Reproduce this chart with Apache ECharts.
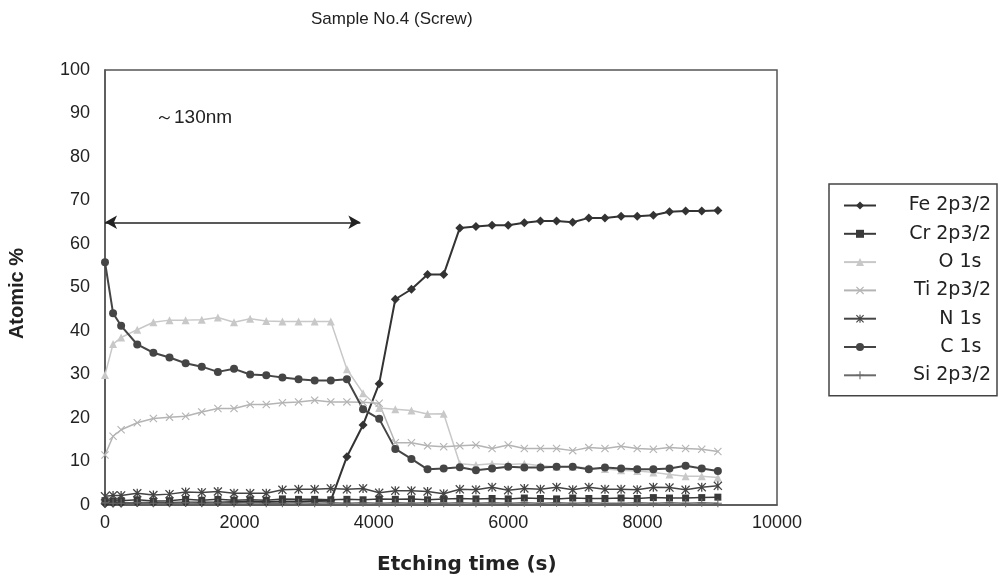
<!DOCTYPE html>
<html>
<head>
<meta charset="utf-8">
<script src="https://cdn.jsdelivr.net/npm/echarts@6/dist/echarts.min.js"></script>
<style>
  html, body { margin: 0; padding: 0; background: #fff; }
  #chart { width: 1002px; height: 588px; }
</style>
</head>
<body>
<div id="chart"></div>
<script>
// etching time (s)
const times = [0, 120, 240, 480, 720, 960, 1200, 1440, 1680, 1920, 2160, 2400, 2640, 2880, 3120, 3360, 3600, 3840, 4080, 4320,
  4560, 4800, 5040, 5280, 5520, 5760, 6000, 6240, 6480, 6720, 6960, 7200, 7440, 7680, 7920, 8160, 8400, 8640, 8880, 9120];

// atomic %
const fe = [0.3, 0.4, 0.4, 0.5, 0.5, 0.5, 0.6, 0.6, 0.6, 0.7, 0.7, 0.7, 0.8, 0.8, 0.9, 1.0, 11.1, 18.4, 27.9, 47.3,
  49.6, 53.0, 53.0, 63.7, 64.0, 64.3, 64.3, 64.9, 65.3, 65.3, 65.0, 66.0, 66.0, 66.4, 66.4, 66.6, 67.4, 67.6, 67.6, 67.7];
const cr = [1.0, 0.9, 1.0, 1.2, 0.9, 1.0, 1.3, 1.1, 1.3, 1.1, 1.2, 1.1, 1.4, 1.3, 1.3, 1.2, 1.3, 1.2, 1.4, 1.3,
  1.4, 1.2, 1.4, 1.5, 1.4, 1.5, 1.4, 1.6, 1.5, 1.4, 1.6, 1.5, 1.5, 1.6, 1.5, 1.7, 1.6, 1.6, 1.7, 1.8];
const o1s = [29.9, 37.0, 38.5, 40.3, 42.0, 42.5, 42.5, 42.6, 43.1, 42.0, 42.8, 42.3, 42.2, 42.2, 42.2, 42.2, 31.2, 25.7, 22.3, 22.0,
  21.7, 20.9, 21.0, 9.5, 9.2, 9.5, 9.3, 9.5, 9.0, 8.8, 8.8, 8.5, 8.3, 8.0, 7.8, 7.5, 7.0, 6.6, 6.6, 6.3];
const ti = [11.5, 15.8, 17.3, 18.9, 19.9, 20.2, 20.4, 21.4, 22.2, 22.2, 23.1, 23.1, 23.5, 23.7, 24.1, 23.7, 23.7, 23.6, 23.4, 14.3,
  14.3, 13.6, 13.4, 13.6, 13.8, 13.0, 13.8, 13.0, 13.0, 13.0, 12.5, 13.2, 13.0, 13.5, 13.0, 12.8, 13.2, 13.0, 12.8, 12.3];
const n1s = [2.0, 2.2, 2.2, 2.7, 2.3, 2.5, 3.0, 2.9, 3.1, 2.7, 2.7, 2.7, 3.5, 3.6, 3.6, 3.8, 3.6, 3.8, 2.8, 3.3,
  3.3, 3.1, 2.6, 3.6, 3.5, 4.1, 3.4, 3.8, 3.6, 4.1, 3.5, 4.1, 3.6, 3.6, 3.5, 4.1, 4.0, 3.5, 4.1, 4.4];
const c1s = [55.8, 44.1, 41.2, 36.9, 35.0, 33.9, 32.6, 31.8, 30.6, 31.3, 30.0, 29.8, 29.3, 28.9, 28.6, 28.6, 28.9, 22.0, 19.8, 12.9,
  10.6, 8.2, 8.4, 8.7, 8.0, 8.4, 8.8, 8.6, 8.6, 8.8, 8.8, 8.2, 8.6, 8.4, 8.2, 8.2, 8.4, 9.0, 8.4, 7.8];
const si = [0.5, 0.4, 0.4, 0.5, 0.4, 0.4, 0.5, 0.4, 0.5, 0.4, 0.5, 0.4, 0.4, 0.5, 0.4, 0.5, 0.4, 0.5, 0.4, 0.5,
  0.4, 0.5, 0.4, 0.5, 0.4, 0.5, 0.4, 0.5, 0.4, 0.5, 0.4, 0.5, 0.4, 0.4, 0.5, 0.4, 0.5, 0.4, 0.5, 0.4];

// arrow span of the ~130nm layer
const arrowFrom = [0, 65];
const arrowTo = [3800, 65];

const FONT = '"Liberation Sans", Arial, sans-serif';
const WIDE = '"DejaVu Sans", sans-serif';

// marker shapes
const xMark = 'path://M0,1L1,0L5,4L9,0L10,1L6,5L10,9L9,10L5,6L1,10L0,9L4,5Z';
const plusMark = 'path://M4.3,0H5.7V4.3H10V5.7H5.7V10H4.3V5.7H0V4.3H4.3Z';
const starMark = 'path://M0,1L1,0L5,4L9,0L10,1L6,5L10,9L9,10L5,6L1,10L0,9L4,5ZM4.3,0H5.7V10H4.3Z';

function pair(vals) {
  return times.map((t, i) => [t, vals[i]]);
}

function mkSeries(name, vals, color, symbol, size, width) {
  return {
    name: name,
    type: 'line',
    data: pair(vals),
    symbol: symbol,
    symbolSize: size,
    showSymbol: true,
    color: color,
    lineStyle: { color: color, width: width },
    itemStyle: { color: color },
    emphasis: { disabled: true }
  };
}

const series = [
  mkSeries('Fe 2p3/2', fe, '#333333', 'diamond', 9, 2),
  mkSeries('Cr 2p3/2', cr, '#3a3a3a', 'rect', 7, 1.5),
  mkSeries('O 1s', o1s, '#c8c8c8', 'triangle', 8, 1.5),
  mkSeries('Ti 2p3/2', ti, '#b4b4b4', xMark, 8, 1.5),
  mkSeries('N 1s', n1s, '#444444', starMark, 9, 1.5),
  mkSeries('C 1s', c1s, '#454545', 'circle', 8, 2),
  mkSeries('Si 2p3/2', si, '#6a6a6a', plusMark, 8, 1.5)
];

// double arrow
series[0].markLine = {
  silent: true,
  symbol: ['arrow', 'arrow'],
  symbolSize: [10, 12],
  label: { show: false },
  lineStyle: { color: '#222', width: 1.5, type: 'solid' },
  data: [[{ coord: arrowFrom }, { coord: arrowTo }]]
};

const chart = echarts.init(document.getElementById('chart'));
chart.setOption({
  animation: false,
  backgroundColor: '#fff',
  grid: {
    left: 105, right: 225, top: 70, bottom: 83,
    show: true, borderColor: '#555', borderWidth: 1.5, backgroundColor: '#fff'
  },
  xAxis: {
    type: 'value', min: 0, max: 10000, interval: 2000,
    axisLine: { show: true, lineStyle: { color: '#555', width: 1.5 } },
    axisTick: { show: false },
    splitLine: { show: false },
    axisLabel: { color: '#222', fontSize: 18, fontFamily: FONT, margin: 9, formatter: v => String(v) }
  },
  yAxis: {
    type: 'value', min: 0, max: 100, interval: 10,
    axisLine: { show: true, lineStyle: { color: '#555', width: 1.5 } },
    axisTick: { show: false },
    splitLine: { show: false },
    axisLabel: { color: '#222', fontSize: 18, fontFamily: FONT, margin: 15 }
  },
  legend: {
    orient: 'vertical',
    left: 829, top: 184,
    padding: [12, 6, 11, 14],
    itemWidth: 32, itemHeight: 10, itemGap: 9.3,
    borderColor: '#444', borderWidth: 1.5,
    backgroundColor: '#fff',
    selectedMode: false,
    formatter: function (name) {
      // short names sit a little left of the long ones
      return '{a|' + (name.length < 6 ? name + '\u2002' : name) + '}';
    },
    textStyle: {
      color: '#222', fontSize: 19, fontFamily: WIDE,
      rich: { a: { width: 110, align: 'right', fontSize: 19, fontFamily: WIDE, color: '#222', lineHeight: 22.5 } }
    },
    data: series.map(s => s.name)
  },
  graphic: [
    { type: 'text', left: 311, top: 11, style: { text: 'Sample No.4 (Screw)', fontSize: 17, fontFamily: FONT, fill: '#222' } },
    { type: 'text', left: 377, top: 555, style: { text: 'Etching time (s)', fontSize: 20, fontWeight: 'bold', fontFamily: WIDE, fill: '#222' } },
    { type: 'text', left: 7, top: 248, rotation: Math.PI / 2, style: { text: 'Atomic %', fontSize: 20, fontWeight: 'bold', fontFamily: FONT, fill: '#222' } },
    { type: 'text', left: 155, top: 108, style: { text: '～130nm', fontSize: 19, fontFamily: FONT, fill: '#222' } }
  ],
  series: series
});
</script>
</body>
</html>
